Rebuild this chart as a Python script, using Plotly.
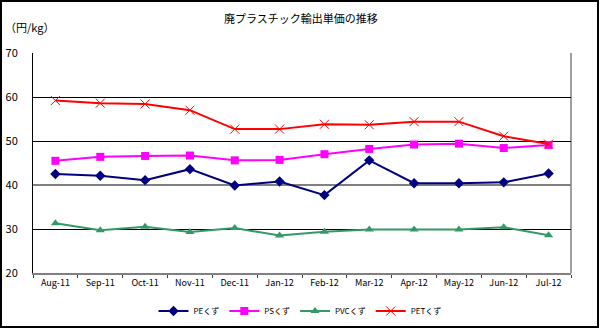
import plotly.graph_objects as go

months = ["Aug-11", "Sep-11", "Oct-11", "Nov-11", "Dec-11", "Jan-12",
          "Feb-12", "Mar-12", "Apr-12", "May-12", "Jun-12", "Jul-12"]
pe = [42.5, 42.1, 41.1, 43.6, 39.9, 40.8, 37.7, 45.6, 40.4, 40.4, 40.6, 42.6]
ps = [45.5, 46.4, 46.6, 46.7, 45.6, 45.7, 47.0, 48.2, 49.2, 49.4, 48.4, 49.1]
pvc = [31.3, 29.7, 30.5, 29.3, 30.2, 28.5, 29.4, 29.9, 29.9, 29.9, 30.4, 28.6]
pet = [59.2, 58.6, 58.4, 57.0, 52.7, 52.7, 53.8, 53.7, 54.4, 54.4, 51.1, 49.3]
y_ticks = [20, 30, 40, 50, 60, 70]
black_grid = [30, 50, 60]
grey_grid = [40, 70]

FONT = "Noto Sans CJK JP, Noto Sans, sans-serif"

fig = go.Figure()
# empty helper traces so the overlay grid axes are drawn
fig.add_trace(go.Scatter(x=[], y=[], yaxis="y2", showlegend=False, hoverinfo="skip"))
fig.add_trace(go.Scatter(x=months, y=pe, name="PEくず", mode="lines+markers",
                         line=dict(color="#000080", width=2),
                         marker=dict(symbol="diamond", size=8, color="#000080")))
fig.add_trace(go.Scatter(x=months, y=ps, name="PSくず", mode="lines+markers",
                         line=dict(color="#FF00FF", width=2),
                         marker=dict(symbol="square", size=8, color="#FF00FF")))
fig.add_trace(go.Scatter(x=months, y=pvc, name="PVCくず", mode="lines+markers",
                         line=dict(color="#339966", width=2),
                         marker=dict(symbol="triangle-up", size=8, color="#339966")))
fig.add_trace(go.Scatter(x=months, y=pet, name="PETくず", mode="lines+markers",
                         line=dict(color="#FF0000", width=2),
                         marker=dict(symbol="x-thin-open", size=9,
                                     line=dict(color="#FF0000", width=1))))

L, R, T, B = 33, 29, 53, 55
W, H = 600 - L - R, 328 - T - B

def px_x(p):
    return (p - L) / W

def px_y(p):
    return (328 - B - p) / H

shapes = [
    dict(type="rect", xref="paper", yref="paper",
         x0=px_x(1), x1=px_x(598), y0=px_y(327), y1=px_y(1),
         line=dict(color="black", width=2), layer="below"),
    dict(type="line", xref="paper", yref="paper", x0=1, x1=1, y0=0, y1=1,
         line=dict(color="#808080", width=1.5), layer="below"),
]

fig.update_layout(
    width=600, height=328,
    margin=dict(l=L, r=R, t=T, b=B, autoexpand=False),
    paper_bgcolor="white", plot_bgcolor="white",
    font=dict(family=FONT, color="black"),
    showlegend=True,
    legend=dict(orientation="h", x=0.5, xanchor="center", xref="container",
                y=(328 - 311) / 328, yref="container", yanchor="middle",
                font=dict(size=8, family=FONT), itemwidth=30, tracegroupgap=0,
                bgcolor="rgba(0,0,0,0)"),
    shapes=shapes,
    annotations=[
        dict(text="廃プラスチック輸出単価の推移", xref="paper", yref="paper",
             x=px_x(301), y=px_y(18), showarrow=False,
             font=dict(size=11, family=FONT), xanchor="center", yanchor="middle"),
        dict(text="（円/kg）", xref="paper", yref="paper",
             x=px_x(3), y=px_y(27), showarrow=False,
             font=dict(size=11, family=FONT), xanchor="left", yanchor="middle"),
    ],
    yaxis2=dict(overlaying="y", range=[20, 70], tickvals=grey_grid, showgrid=True,
                gridcolor="#808080", gridwidth=2, showticklabels=False, ticks="",
                showline=False, zeroline=False, fixedrange=True, automargin=False),
)

fig.update_xaxes(type="category", showgrid=False, ticks="outside", tickson="boundaries",
                 ticklen=3, tickcolor="#404040", showline=True, linecolor="#808080",
                 linewidth=1.5, tickfont=dict(size=9, family=FONT),
                 range=[-0.5, 11.5], fixedrange=True, automargin=False)
fig.update_layout(yaxis=dict(range=[20, 70], tickvals=y_ticks, showgrid=False,
                             showline=True, linecolor="black", linewidth=1,
                             ticks="", ticklabelstandoff=12, zeroline=False,
                             tickfont=dict(size=11, family=FONT), fixedrange=True,
                             automargin=False))
# black gridlines drawn via minor grid of main axis
fig.update_yaxes(selector=dict(overlaying=None),
                 minor=dict(tickvals=black_grid, showgrid=True, gridcolor="black",
                            gridwidth=1, ticks=""))

fig.write_html("out.html")
